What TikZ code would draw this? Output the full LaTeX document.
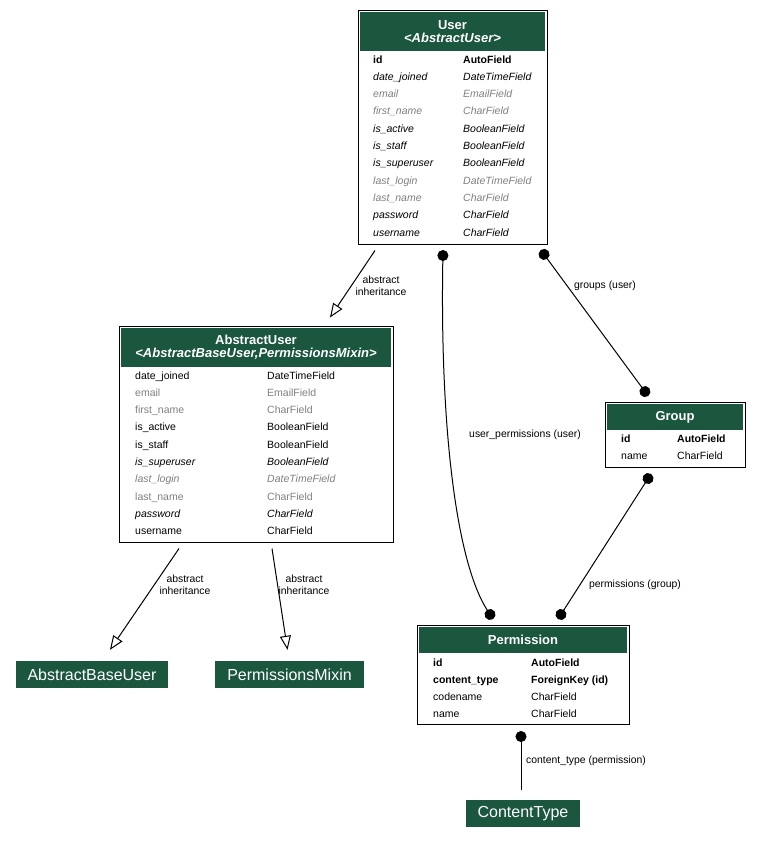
\documentclass[tikz,border=0pt]{standalone}
\usepackage{fontspec}
\setmainfont{Liberation Sans}
\usetikzlibrary{arrows.meta}
\definecolor{hdrgreen}{HTML}{1B563F}
\definecolor{fldgray}{RGB}{128,128,128}
\newcommand{\fldfont}{\fontsize{10.5}{12}\selectfont}
\tikzset{
	tbl/.style={draw, line width=1pt, inner sep=0, fill=white},
	hdr/.style={fill=hdrgreen, text=white, inner sep=0, align=center, font=\fontsize{13}{13}\selectfont\bfseries},
	box/.style={fill=hdrgreen, text=white, inner sep=0, minimum height=27, font=\fontsize{16}{17}\selectfont},
	row/.style={anchor=west, inner sep=0, text height=7.5, text depth=2.5, font=\fldfont},
	fldplain/.style={},
	fldbold/.style={font=\fldfont\bfseries},
	fldital/.style={font=\fldfont\itshape},
	fldgrey/.style={text=fldgray},
	fldgreyital/.style={text=fldgray, font=\fldfont\itshape},
	lbl/.style={inner sep=0, align=center, font=\fontsize{10.4}{12}\selectfont},
	inh/.style={line width=1pt, -{Triangle[open, length=14pt, width=11pt]}},
	rel/.style={line width=1pt, {Circle[length=11pt]}-{Circle[length=11pt]}},
	relone/.style={line width=1pt, {Circle[length=11pt]}-}
}
\begin{document}
\begin{tikzpicture}[x=1pt, y=-1pt]
\def\dy{17.33}
\fill[white] (0,0) rectangle (761,844);
\useasboundingbox (0,0) rectangle (761,844);

\node[tbl, minimum width=189, minimum height=234] (user) at (452.5,127) {};
\node[hdr, minimum width=185, minimum height=39] (userhead) at (452.5,31.5) {User\\\itshape<AbstractUser>};
\foreach \fn/\ft/\fs [count=\k from 0] in {id/AutoField/fldbold, date\_joined/DateTimeField/fldital, email/EmailField/fldgreyital, first\_name/CharField/fldgreyital, is\_active/BooleanField/fldital, is\_staff/BooleanField/fldital, is\_superuser/BooleanField/fldital, last\_login/DateTimeField/fldgreyital, last\_name/CharField/fldgreyital, password/CharField/fldital, username/CharField/fldital} {
	\node[row, \fs] (user-n\k) at (373,60.5+\dy*\k) {\fn};
	\node[row, \fs] (user-t\k) at (463,60.5+\dy*\k) {\ft};
}

\node[tbl, minimum width=274, minimum height=216] (abstractuser) at (256,434) {};
\node[hdr, minimum width=270, minimum height=39] (abstractuserhead) at (256,347.5) {AbstractUser\\\itshape<AbstractBaseUser,PermissionsMixin>};
\foreach \fn/\ft/\fs [count=\k from 0] in {date\_joined/DateTimeField/fldplain, email/EmailField/fldgrey, first\_name/CharField/fldgrey, is\_active/BooleanField/fldplain, is\_staff/BooleanField/fldplain, is\_superuser/BooleanField/fldital, last\_login/DateTimeField/fldgreyital, last\_name/CharField/fldgrey, password/CharField/fldital, username/CharField/fldplain} {
	\node[row, \fs] (abstractuser-n\k) at (135,376.5+\dy*\k) {\fn};
	\node[row, \fs] (abstractuser-t\k) at (267,376.5+\dy*\k) {\ft};
}

\node[tbl, minimum width=140, minimum height=65] (group) at (675,434.5) {};
\node[hdr, minimum width=136, minimum height=26] (grouphead) at (675,417) {Group};
\foreach \fn/\ft/\fs [count=\k from 0] in {id/AutoField/fldbold, name/CharField/fldplain} {
	\node[row, \fs] (group-n\k) at (621,439.5+17.5*\k) {\fn};
	\node[row, \fs] (group-t\k) at (677,439.5+17.5*\k) {\ft};
}

\node[tbl, minimum width=212, minimum height=99] (permission) at (523,674.5) {};
\node[hdr, minimum width=208, minimum height=26] (permissionhead) at (523,640) {Permission};
\foreach \fn/\ft/\fs [count=\k from 0] in {id/AutoField/fldbold, content\_type/ForeignKey (id)/fldbold, codename/CharField/fldplain, name/CharField/fldplain} {
	\node[row, \fs] (permission-n\k) at (433,663.5+\dy*\k) {\fn};
	\node[row, \fs] (permission-t\k) at (531,663.5+\dy*\k) {\ft};
}

\node[box, minimum width=152] (abstractbaseuser) at (92,674.5) {AbstractBaseUser};
\node[box, minimum width=149] (permissionsmixin) at (289.5,674.5) {PermissionsMixin};
\node[box, minimum width=114] (contenttype) at (523,813.5) {ContentType};

\draw[inh] ([shift={(-77.5,6)}]user.south) -- ([shift={(74,-8)}]abstractuser.north);
\node[lbl] (inhlabel1) at (381,285.5) {abstract\\inheritance};
\draw[inh] ([shift={(-77,6)}]abstractuser.south) -- ([shift={(18,-11)}]abstractbaseuser.north);
\node[lbl] (inhlabel2) at (185,584.5) {abstract\\inheritance};
\draw[inh] ([shift={(16,6)}]abstractuser.south) -- ([shift={(-2,-11)}]permissionsmixin.north);
\node[lbl] (inhlabel3) at (304,584.5) {abstract\\inheritance};

\draw[rel] ([shift={(-9.5,5.5)}]user.south) .. controls (440,420) and (455,560) .. ([shift={(-30,-5.4)}]permission.north);
\node[lbl] (userpermlabel) at (525,434.5) {user\_permissions (user)};
\draw[rel] ([shift={(88.3,5.5)}]user.south) -- ([shift={(-26.8,-5.5)}]group.north);
\node[lbl] (groupslabel) at (605,285.5) {groups (user)};
\draw[rel] ([shift={(-24,6.4)}]group.south) -- ([shift={(35,-5.4)}]permission.north);
\node[lbl] (permlabel) at (635,584.5) {permissions (group)};
\draw[relone] ([shift={(-2,6.5)}]permission.south) -- ([shift={(-2,-10)}]contenttype.north);
\node[lbl, anchor=west] (ctlabel) at (526,760.5) {content\_type (permission)};
\end{tikzpicture}
\end{document}
